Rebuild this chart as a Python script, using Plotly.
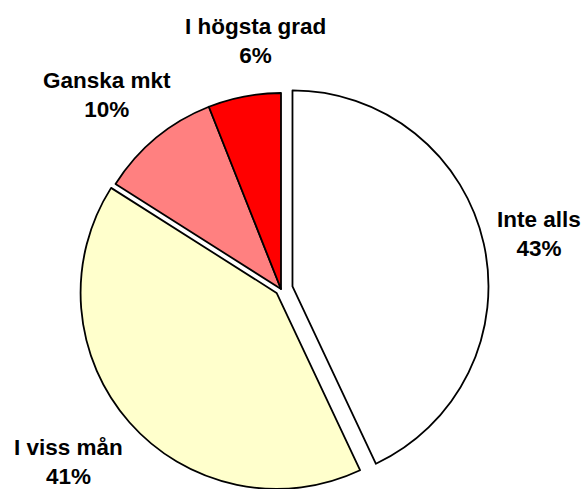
import math
import plotly.graph_objects as go

# ---- data ----
labels = ["Inte alls", "I viss mån", "Ganska mkt", "I högsta grad"]
values = [43, 41, 10, 6]
colors = ["#FFFFFF", "#FFFFCC", "#FF8080", "#FF0000"]
explode = [0.06, 0.03, 0.0, 0.0]   # Excel-style explosion (fraction of radius)

# ---- layout geometry (pixels) ----
W, H = 583, 489
CX, CY, R = 281, 289, 196          # pie centre / radius
label_xy_px = [(539, 234), (68, 462), (107, 95), (255, 41)]  # data-label block centres

total = float(sum(values))
cum = 0.0
centres = []
for v, e in zip(values, explode):
    mid = (cum + v / 2.0) / total * 2 * math.pi  # clockwise from 12 o'clock
    cum += v
    dx = e * R * math.sin(mid)
    dy = -e * R * math.cos(mid)
    centres.append((round(CX + dx, 2), round(CY + dy, 2)))

groups = {}
for i, c in enumerate(centres):
    groups.setdefault(c, []).append(i)

fig = go.Figure()
for (cx, cy), idx in groups.items():
    fill = [colors[i] if i in idx else "rgba(0,0,0,0)" for i in range(len(values))]
    lw = [1.8 if i in idx else 0 for i in range(len(values))]
    x0 = max(0.0, (cx - R) / W)
    x1 = min(1.0, (cx + R) / W)
    y0 = max(0.0, 1 - (cy + R) / H)
    y1 = min(1.0, 1 - (cy - R) / H)
    fig.add_trace(go.Pie(
        labels=labels,
        values=values,
        sort=False,
        direction="clockwise",
        rotation=0,
        marker=dict(colors=fill, line=dict(color="black", width=lw)),
        textinfo="none",
        hoverinfo="skip",
        showlegend=False,
        domain=dict(x=[x0, x1], y=[y0, y1]),
    ))

for lab, v, (px, py) in zip(labels, values, label_xy_px):
    pct = round(100 * v / total)
    fig.add_annotation(
        x=px / W, y=1 - py / H, xref="paper", yref="paper",
        xanchor="center", yanchor="middle", showarrow=False,
        text=f"{lab}<br>{pct}%",
        font=dict(family="Liberation Sans, Arial, sans-serif", size=22.5,
                  color="black", weight="bold"),
    )

fig.update_layout(
    width=W, height=H,
    margin=dict(l=0, r=0, t=0, b=0),
    paper_bgcolor="white",
    plot_bgcolor="white",
    showlegend=False,
)

fig.write_html("out.html", config={"displayModeBar": False},
               post_script="document.body.style.margin='0';")
